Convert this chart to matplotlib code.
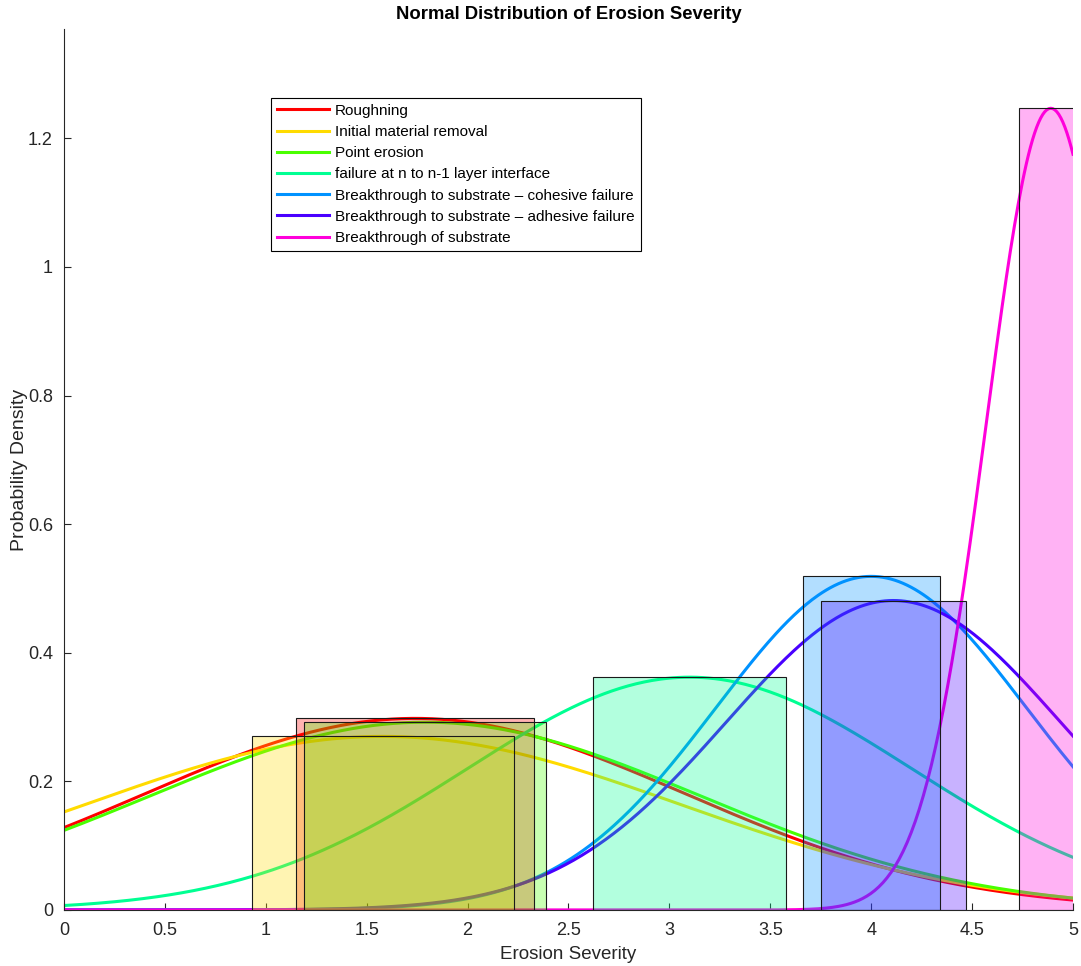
import numpy as np
import matplotlib
matplotlib.use("Agg")
import matplotlib.pyplot as plt

plt.rcParams['font.family'] = ['Liberation Sans', 'DejaVu Sans']

# Categories and fitted normal parameters
labels = ['Roughning', 'Initial material removal', 'Point erosion',
          'failure at n to n-1 layer interface',
          'Breakthrough to substrate \u2013 cohesive failure',
          'Breakthrough to substrate \u2013 adhesive failure',
          'Breakthrough of substrate']
means = [1.74, 1.58, 1.79, 3.10, 4.00, 4.11, 4.89]
sigmas = [1.339, 1.478, 1.366, 1.102, 0.769, 0.829, 0.320]

# Bars (centred on the mean)
bar_heights = [0.298, 0.270, 0.292, 0.362, 0.519, 0.481, 1.247]
bar_widths = [1.18, 1.30, 1.20, 0.96, 0.68, 0.72, 0.32]

# hsv(7) colours
colors = [(1, 0, 0), (1, 0.857, 0), (0.286, 1, 0), (0, 1, 0.571),
          (0, 0.571, 1), (0.286, 0, 1), (1, 0, 0.857)]

dark = (0.15, 0.15, 0.15)

fig = plt.figure(figsize=(10.81, 9.66), dpi=100)
ax = fig.add_axes([0.0592, 0.058, 0.9334, 0.912])

x = np.linspace(0, 5, 500)
for m, s, c, lab in zip(means, sigmas, colors, labels):
    pdf = np.exp(-(x - m) ** 2 / (2 * s ** 2)) / (s * np.sqrt(2 * np.pi))
    ax.plot(x, pdf, color=c, lw=2.2, label=lab, zorder=2)

for m, h, w, c in zip(means, bar_heights, bar_widths, colors):
    ax.bar(m, h, width=w, color=c, alpha=0.3, zorder=3)
    ax.bar(m, h, width=w, facecolor='none', edgecolor=(0.1, 0.1, 0.1), lw=0.8, zorder=4)

ax.set_xlim(0, 5)
ax.set_ylim(0, 1.37)
ax.set_xticks(np.arange(0, 5.01, 0.5))
ax.set_xticklabels(['0', '0.5', '1', '1.5', '2', '2.5', '3', '3.5', '4', '4.5', '5'])
ax.set_yticks([0, 0.2, 0.4, 0.6, 0.8, 1, 1.2])
ax.set_yticklabels(['0', '0.2', '0.4', '0.6', '0.8', '1', '1.2'])
ax.tick_params(direction='in', length=5, labelsize=13, colors=dark)
ax.tick_params(axis='x', pad=9)
ax.tick_params(axis='y', pad=8)
for side in ['top', 'right']:
    ax.spines[side].set_visible(False)
for side in ['left', 'bottom']:
    ax.spines[side].set_color(dark)

ax.set_xlabel('Erosion Severity', fontsize=13.5, color=dark, labelpad=5)
ax.set_ylabel('Probability Density', fontsize=14, color=dark, labelpad=0)
ax.set_title('Normal Distribution of Erosion Severity', fontsize=13.3,
             fontweight='bold', pad=7)

leg = ax.legend(loc='upper left', bbox_to_anchor=(0.205, 0.922), fontsize=11,
                frameon=True, fancybox=False, edgecolor='black', framealpha=1,
                handlelength=3.4, handletextpad=0.4, labelspacing=0.47,
                borderpad=0.4, borderaxespad=0)
leg.get_frame().set_linewidth(0.8)

fig.savefig('out.png', dpi=100)
